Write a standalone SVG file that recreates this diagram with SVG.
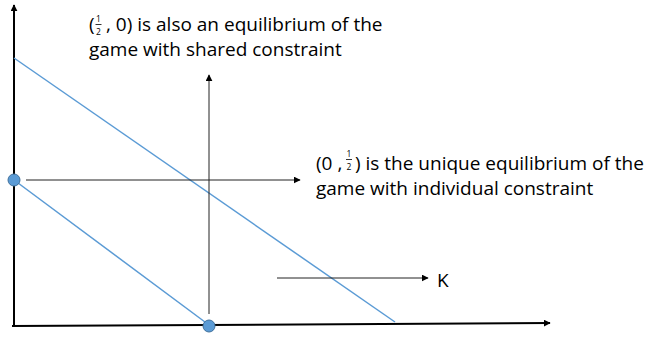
<svg xmlns="http://www.w3.org/2000/svg" width="654" height="337" viewBox="0 0 654 337">
<style>
.t{font-family:"Open Sans","Liberation Sans",sans-serif;font-size:19px;fill:#000}
.f{font-family:"Open Sans","Liberation Sans",sans-serif;font-size:8.5px;fill:#000;text-anchor:middle}
.ax{stroke:#000;stroke-width:2;fill:none}
.ar{stroke:#222;stroke-width:1;fill:none}
.bl{stroke:#5B9BD5;stroke-width:1.5;fill:none}
.dot{fill:#5B9BD5;stroke:#41719C;stroke-width:1}
</style>
<defs>
<marker id="ah" viewBox="0 0 10 10" refX="9" refY="5" markerWidth="7" markerHeight="7" markerUnits="userSpaceOnUse" orient="auto">
<path d="M0,0 L10,5 L0,10 z" fill="#000"/>
</marker>
</defs>
<g id="connectors">
<line class="ax" x1="14" y1="327" x2="14" y2="5" marker-end="url(#ah)"/>
<line class="ax" x1="12" y1="326" x2="550" y2="323" marker-end="url(#ah)"/>
<line class="bl" x1="14" y1="58" x2="395" y2="322"/>
<line class="bl" x1="14" y1="180" x2="209" y2="325"/>
<line class="ar" x1="209" y1="314" x2="209" y2="75" marker-end="url(#ah)"/>
<line class="ar" x1="26" y1="180" x2="300" y2="180" marker-end="url(#ah)"/>
<line class="ar" x1="277" y1="278" x2="428" y2="278" marker-end="url(#ah)"/>
</g>
<g id="p1"><circle class="dot" cx="14" cy="180" r="6"/></g>
<g id="p2"><circle class="dot" cx="209" cy="326" r="6"/></g>
<g id="label-shared">
<text class="t" x="89" y="31">(</text>
<text class="f" x="98.5" y="22">1</text>
<line x1="95.5" y1="24.5" x2="101.5" y2="24.5" stroke="#000" stroke-width="0.8"/>
<text class="f" x="98.5" y="34.5">2</text>
<text class="t" x="106" y="31">, 0) is also an equilibrium of the</text>
<text class="t" x="89" y="56">game with shared constraint</text>
</g>
<g id="label-individual">
<text class="t" x="316" y="170">(0 ,</text>
<text class="f" x="349" y="157">1</text>
<line x1="346" y1="159.5" x2="352" y2="159.5" stroke="#000" stroke-width="0.8"/>
<text class="f" x="349" y="169.5">2</text>
<text class="t" x="355" y="170">) is the unique equilibrium of the</text>
<text class="t" x="316" y="195">game with individual constraint</text>
</g>
<g id="label-K">
<text class="t" x="437" y="287">K</text>
</g>
</svg>
